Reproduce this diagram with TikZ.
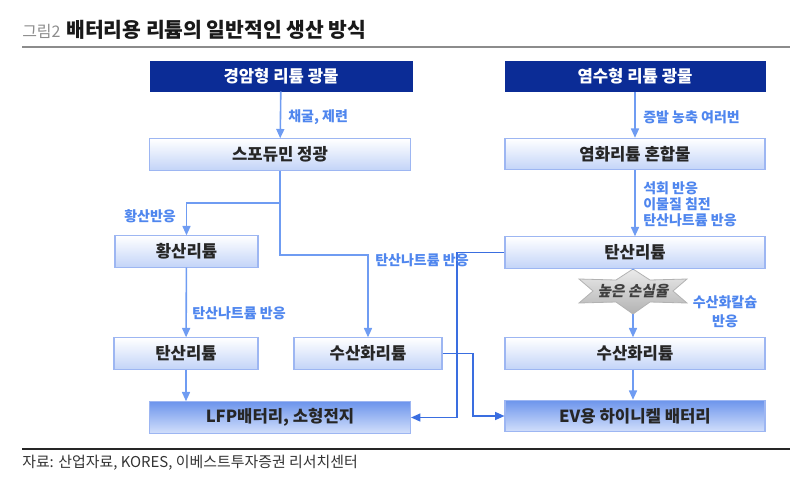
\documentclass[tikz,border=0pt]{standalone}
\usepackage{fontspec}
\setmainfont{Noto Sans CJK KR}
\newfontfamily\krslant[FakeSlant=0.2]{Noto Sans CJK KR}
\usetikzlibrary{arrows.meta}
\definecolor{navy}{HTML}{0B2C96}
\definecolor{lblue}{HTML}{4F86EE}
\definecolor{lineblue}{HTML}{6F9CF2}
\definecolor{darkline}{HTML}{3A6EE0}
\definecolor{boxborder}{HTML}{9DB6F2}
\definecolor{boxbottom}{HTML}{C3D4F8}
\definecolor{strongtop}{HTML}{6D95EC}
\definecolor{strongbot}{HTML}{D2DFFB}
\tikzset{
  darkbox/.style={draw=navy, fill=navy, text=white, font=\bfseries\fontsize{12.5}{14}\selectfont, inner sep=0pt, minimum height=22.5pt},
  lightbox/.style={draw=boxborder, line width=0.8pt, top color=white, bottom color=boxbottom, text=black!85, font=\bfseries\fontsize{12.5}{14}\selectfont, inner sep=0pt, minimum height=23.5pt},
  strongbox/.style={draw=boxborder, line width=0.8pt, top color=strongtop, bottom color=strongbot, text=black!85, font=\bfseries\fontsize{12.5}{14}\selectfont, inner sep=0pt, minimum height=23.5pt},
  lbl/.style={text=lblue, font=\bfseries\fontsize{10.5}{12}\selectfont, inner sep=0pt},
  conn/.style={draw=lineblue, line width=1.2pt},
  arr/.style={conn, -{Triangle[length=7pt,width=6pt]}},
  darr/.style={draw=darkline, line width=1pt, -{Triangle[length=7pt,width=6pt]}},
}
\begin{document}
\begin{tikzpicture}[x=0.75pt,y=-0.75pt]
\useasboundingbox (0,0) rectangle (794,490);
% title
\node[anchor=west, inner sep=0pt, text=black!45, font=\fontsize{12}{14}\selectfont] (tnum) at (22,31) {그림2};
\node[anchor=west, inner sep=0pt, text=black!90, font=\bfseries\fontsize{15.3}{17}\selectfont] (title) at (66,30) {배터리용 리튬의 일반적인 생산 방식};
\draw[black!45, line width=2.2pt] (22,47) -- (790,47);
% boxes
\node[darkbox, minimum width=196.5pt] (g1) at (281,76) {경암형 리튬 광물};
\node[darkbox, minimum width=195pt] (s1) at (635,76.5) {염수형 리튬 광물};
\node[lightbox, minimum width=195.75pt] (spod) at (280,154.5) {스포듀민 정광};
\node[lightbox, minimum width=195pt] (licl) at (635,154) {염화리튬 혼합물};
\node[lightbox, minimum width=107.25pt] (hwang) at (186.5,251.5) {황산리튬};
\node[lightbox, minimum width=195pt] (tan2) at (635,252.5) {탄산리튬};
\node[lightbox, minimum width=108pt] (tan1) at (186,353.5) {탄산리튬};
\node[lightbox, minimum width=111pt] (sus1) at (368,353.5) {수산화리튬};
\node[lightbox, minimum width=195pt] (sus2) at (635,353.5) {수산화리튬};
\node[strongbox, minimum width=195.75pt] (lfp) at (280,417.5) {LFP배터리, 소형전지};
\node[strongbox, minimum width=195pt] (ev) at (635,416) {EV용 하이니켈 배터리};
% star
\coordinate (startop) at (633,269);
\coordinate (starbot) at (633,314);
\draw[draw=black!30, line width=0.6pt, top color=black!8, bottom color=black!30]
  (startop) -- (650,280) -- (687,279) -- (673,291) -- (687,303) -- (650,302) -- (starbot)
  -- (616,302) -- (579,303) -- (593,291) -- (579,279) -- (616,280) -- cycle;
\node[inner sep=0pt, text=black!75, font=\krslant\bfseries\fontsize{11}{12}\selectfont] (star) at (633,291) {높은 손실율};
% connectors
\draw[arr] (g1) -- (spod);
\draw[arr] (s1) -- (licl);
\draw[arr] (licl) -- (tan2);
\coordinate (j1) at (280,203);
\coordinate (j2) at (280,255);
\draw[conn] (spod.south) -- (j1);
\draw[arr] (j1) -| (hwang.north);
\draw[arr] (j1) -- (j2) -| (sus1.north);
\draw[arr] (hwang) -- (tan1);
\draw[arr] (tan1) -- (tan1.south |- lfp.north);
\draw[conn] (tan2.south -| startop) -- (startop);
\draw[arr] (starbot) -- (sus2.north -| starbot);
\draw[arr] (sus2.south -| starbot) -- (ev.north -| starbot);
\coordinate (c1) at (457,300);
\coordinate (c2) at (473,380);
\draw[darr] (tan2.west) -| (c1) |- (lfp.east);
\draw[darr] (sus1.east) -| (c2) |- (ev.west);
% labels
\node[lbl, anchor=west] (l1) at (288,117) {채굴, 제련};
\node[lbl, anchor=west] (l2) at (643,117) {증발 농축 여러번};
\node[lbl, anchor=west, align=left, font=\bfseries\fontsize{10.5}{12}\selectfont] (l3) at (643,204) {석회 반응\\이물질 침전\\탄산나트륨 반응};
\node[lbl, anchor=west] (l4) at (124,216) {황산반응};
\node[lbl, anchor=west] (l5) at (375,260) {탄산나트륨 반응};
\node[lbl, anchor=west] (l6) at (192,313) {탄산나트륨 반응};
\node[lbl, align=center, font=\bfseries\fontsize{10.5}{14}\selectfont] (l7) at (725,312) {수산화칼슘\\반응};
% footer
\draw[black!85, line width=1pt] (22,449) -- (790,449);
\node[anchor=west, inner sep=0pt, text=black!80, font=\fontsize{11.2}{13}\selectfont] (src) at (22,463) {자료: 산업자료, KORES, 이베스트투자증권 리서치센터};
\end{tikzpicture}
\end{document}
